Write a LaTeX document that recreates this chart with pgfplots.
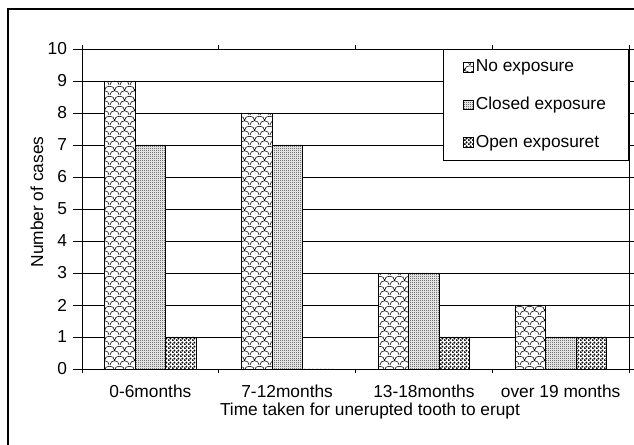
\documentclass[border=0pt]{standalone}
\usepackage{fontspec}
\setmainfont{Liberation Sans}
\usepackage{pgfplots}
\pgfplotsset{compat=1.18}
\usetikzlibrary{patterns}

\pgfdeclarepatternformonly{scales}{\pgfqpoint{0pt}{0pt}}{\pgfqpoint{7.5pt}{7.5pt}}{\pgfqpoint{7.5pt}{7.5pt}}{%
  \pgfsetlinewidth{0.45pt}%
  \pgfpathmoveto{\pgfqpoint{0pt}{0pt}}%
  \pgfpathcurveto{\pgfqpoint{0pt}{4.6pt}}{\pgfqpoint{7.5pt}{4.6pt}}{\pgfqpoint{7.5pt}{0pt}}%
  \pgfpathmoveto{\pgfqpoint{-3.75pt}{3.75pt}}%
  \pgfpathcurveto{\pgfqpoint{-3.75pt}{8.35pt}}{\pgfqpoint{3.75pt}{8.35pt}}{\pgfqpoint{3.75pt}{3.75pt}}%
  \pgfpathmoveto{\pgfqpoint{3.75pt}{3.75pt}}%
  \pgfpathcurveto{\pgfqpoint{3.75pt}{8.35pt}}{\pgfqpoint{11.25pt}{8.35pt}}{\pgfqpoint{11.25pt}{3.75pt}}%
  \pgfusepath{stroke}}

\pgfdeclarepatternformonly{finegrey}{\pgfqpoint{0pt}{0pt}}{\pgfqpoint{1.5pt}{1.5pt}}{\pgfqpoint{1.5pt}{1.5pt}}{%
  \pgfpathrectangle{\pgfqpoint{0pt}{0pt}}{\pgfqpoint{0.75pt}{0.75pt}}%
  \pgfpathrectangle{\pgfqpoint{0.75pt}{0.75pt}}{\pgfqpoint{0.75pt}{0.75pt}}%
  \pgfusepath{fill}}

\pgfdeclarepatternformonly{darkdots}{\pgfqpoint{0pt}{0pt}}{\pgfqpoint{3pt}{3pt}}{\pgfqpoint{3pt}{3pt}}{%
  \pgfpathcircle{\pgfqpoint{0.75pt}{0.75pt}}{1.0pt}%
  \pgfpathcircle{\pgfqpoint{2.25pt}{2.25pt}}{1.0pt}%
  \pgfusepath{fill}}

\begin{document}
\fontsize{13}{15.5}\selectfont
\begin{tikzpicture}
\useasboundingbox (0,0) rectangle (475.5pt,333.75pt);
\begin{scope}
\clip (0,0) rectangle (475.5pt,333.75pt);
\draw[black, line width=0.8pt] (6pt,-20pt) rectangle (500pt,327pt);
\end{scope}
\begin{axis}[
  at={(61.5pt,57pt)}, anchor=south west,
  scale only axis, width=410.25pt, height=240pt,
  xmin=0.5, xmax=4.5, ymin=0, ymax=10,
  axis line style={black, line width=0.6pt},
  xtick={1,2,3,4},
  xticklabels={0-6months,7-12months,13-18months,over 19 months},
  major x tick style={draw=none},
  minor xtick={0.5,1.5,2.5,3.5,4.5},
  minor tick length=3pt,
  ytick={0,1,...,10},
  major tick length=6.75pt,
  tick align=outside,
  tick style={black, line width=0.6pt},
  ymajorgrids, grid style={black, line width=0.6pt},
  /pgf/number format/assume math mode=true,
  xticklabel style={yshift=-1pt},
  yticklabel style={xshift=0pt},
  xlabel={Time taken for unerupted tooth to erupt},
  xlabel style={at={(axis description cs:0.5265,-0.13)}, anchor=center},
  ylabel={Number of cases},
  ylabel style={at={(axis description cs:-0.0823,0.522)}, anchor=center},
  legend style={at={(1,1)}, anchor=north east, draw=black, line width=0.6pt,
    inner xsep=15pt, inner ysep=6pt, row sep=13pt, fill=white},
  legend cell align=left,
  mylegend/.style={legend image code/.code={\draw[##1, line width=0.4pt] (0pt,-3.6pt) rectangle (7pt,3.6pt);}},
]
\addplot[ybar, bar width=0.223, bar shift=-0.223, draw=black, line width=0.5pt, fill=white, postaction={pattern=scales}, mylegend]
  coordinates {(1,9) (2,8) (3,3) (4,2)};
\addlegendentry{No exposure}
\addplot[ybar, bar width=0.223, bar shift=0, draw=black, line width=0.5pt, fill=white, postaction={pattern=finegrey, pattern color=black!85}, mylegend]
  coordinates {(1,7) (2,7) (3,3) (4,1)};
\addlegendentry{Closed exposure}
\addplot[ybar, bar width=0.223, bar shift=0.223, draw=black, line width=0.5pt, fill=white, postaction={pattern=darkdots}, mylegend]
  coordinates {(1,1) (2,0) (3,1) (4,1)};
\addlegendentry{Open exposuret}
\end{axis}
\end{tikzpicture}
\end{document}
